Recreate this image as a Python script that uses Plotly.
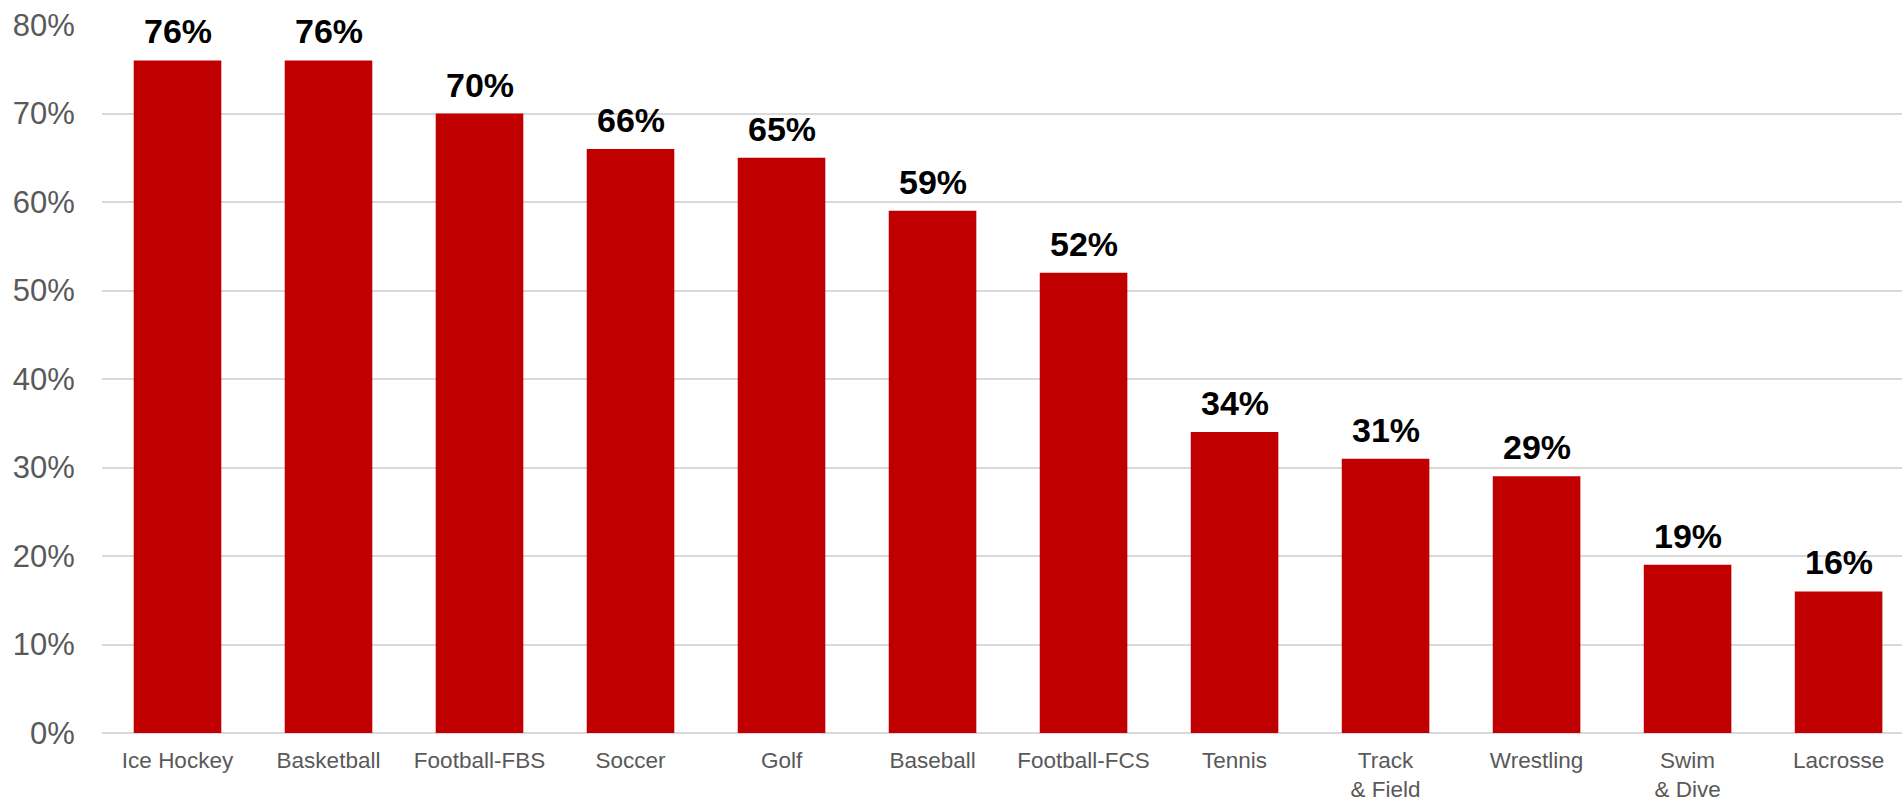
import plotly.graph_objects as go

categories = ["Ice Hockey", "Basketball", "Football-FBS", "Soccer", "Golf", "Baseball",
              "Football-FCS", "Tennis", "Track<br>& Field", "Wrestling", "Swim<br>& Dive", "Lacrosse"]
values = [76, 76, 70, 66, 65, 59, 52, 34, 31, 29, 19, 16]
labels = [f"{v}%" for v in values]
y_ticks = [0, 10, 20, 30, 40, 50, 60, 70, 80]
y_ticktext = [f"{t}%" for t in y_ticks]

FONT = "Liberation Sans, Arial, sans-serif"

fig = go.Figure(
    go.Bar(
        x=categories,
        y=values,
        cliponaxis=False,
        marker=dict(color="#C00000", line=dict(width=0)),
        width=0.58,
        hoverinfo="skip",
    )
)

for c, v, t in zip(categories, values, labels):
    fig.add_annotation(
        x=c, y=v, text=t, showarrow=False,
        xanchor="center", yanchor="bottom", yshift=8,
        font=dict(family=FONT, size=34, color="#000000", weight="bold"),
    )

fig.update_layout(
    width=1902,
    height=800,
    margin=dict(l=102, r=0, t=25, b=67),
    paper_bgcolor="white",
    plot_bgcolor="white",
    showlegend=False,
    font=dict(family=FONT, color="#595959"),
    xaxis=dict(
        type="category",
        range=[-0.5, 11.42],
        automargin=False,
        tickfont=dict(family=FONT, size=22.5, color="#595959"),
        ticks="outside",
        ticklen=7,
        tickcolor="rgba(0,0,0,0)",
        showgrid=False,
        showline=False,
        zeroline=False,
    ),
    yaxis=dict(
        range=[0, 80],
        automargin=False,
        tickvals=y_ticks,
        ticktext=y_ticktext,
        tickfont=dict(family=FONT, size=31, color="#595959"),
        ticks="outside",
        ticklen=20,
        tickcolor="rgba(0,0,0,0)",
        showgrid=True,
        gridcolor="#D9D9D9",
        gridwidth=1.5,
        zeroline=True,
        zerolinecolor="#D9D9D9",
        zerolinewidth=1.5,
        showline=False,
    ),
)

fig.write_html(
    "out.html",
    config={"displayModeBar": False},
    post_script="document.body.style.margin='0';document.body.style.overflow='hidden';",
)
